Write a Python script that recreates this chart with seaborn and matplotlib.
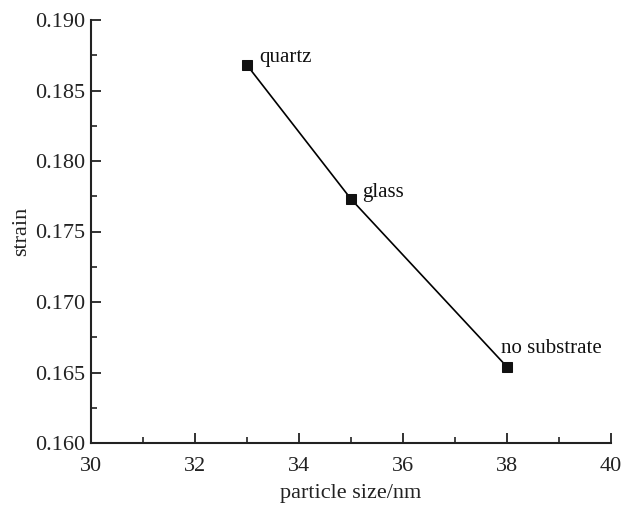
import matplotlib
matplotlib.use("Agg")
import matplotlib.pyplot as plt
import seaborn as sns
import pandas as pd
from matplotlib.ticker import MultipleLocator, FormatStrFormatter

particle_size = [33, 35, 38]
strain = [0.1868, 0.1773, 0.1654]
labels = ["quartz", "glass", "no substrate"]

sns.set_style("ticks")
plt.rcParams['font.family'] = ['Liberation Serif', 'DejaVu Serif']
plt.rcParams['mathtext.fontset'] = 'stix'

df = pd.DataFrame({"size": particle_size, "strain": strain, "label": labels})

fig = plt.figure(figsize=(6.24, 5.09), dpi=100)
ax = fig.add_axes([91/624, 1-443/509, (611-91)/624, (443-20)/509])

sns.lineplot(data=df, x="size", y="strain", ax=ax, color="black", linewidth=1.2,
             marker="s", markersize=7, markeredgecolor="#111111", markerfacecolor="#111111")

offsets = {"quartz": (9, 2), "glass": (8, 1.5), "no substrate": (-4.5, 10)}
for x, y, lab in zip(particle_size, strain, labels):
    dx, dy = offsets[lab]
    ax.annotate(lab, (x, y), xytext=(dx, dy), textcoords="offset points",
                fontsize=15, ha="left", va="baseline", color="#111111")

ax.set_xlim(30, 40)
ax.set_ylim(0.160, 0.190)
ax.xaxis.set_major_locator(MultipleLocator(2))
ax.xaxis.set_minor_locator(MultipleLocator(1))
ax.yaxis.set_major_locator(MultipleLocator(0.005))
ax.yaxis.set_minor_locator(MultipleLocator(0.0025))
ax.yaxis.set_major_formatter(FormatStrFormatter("%.3f"))

for s in ["top", "right"]:
    ax.spines[s].set_visible(False)
for s in ["left", "bottom"]:
    ax.spines[s].set_linewidth(1.5)
    ax.spines[s].set_color("#222222")

ax.tick_params(which="major", direction="in", length=7, width=1.3, labelsize=16, colors="#222222")
ax.tick_params(which="minor", direction="in", length=4, width=1.2, colors="#222222")
ax.tick_params(axis="x", which="major", pad=10)
ax.tick_params(axis="y", which="major", pad=4)

ax.set_xlabel("particle size/nm", fontsize=16, color="#222222", labelpad=6)
ax.set_ylabel("strain", fontsize=16, color="#222222", labelpad=3)

fig.savefig("out.png", dpi=100)
